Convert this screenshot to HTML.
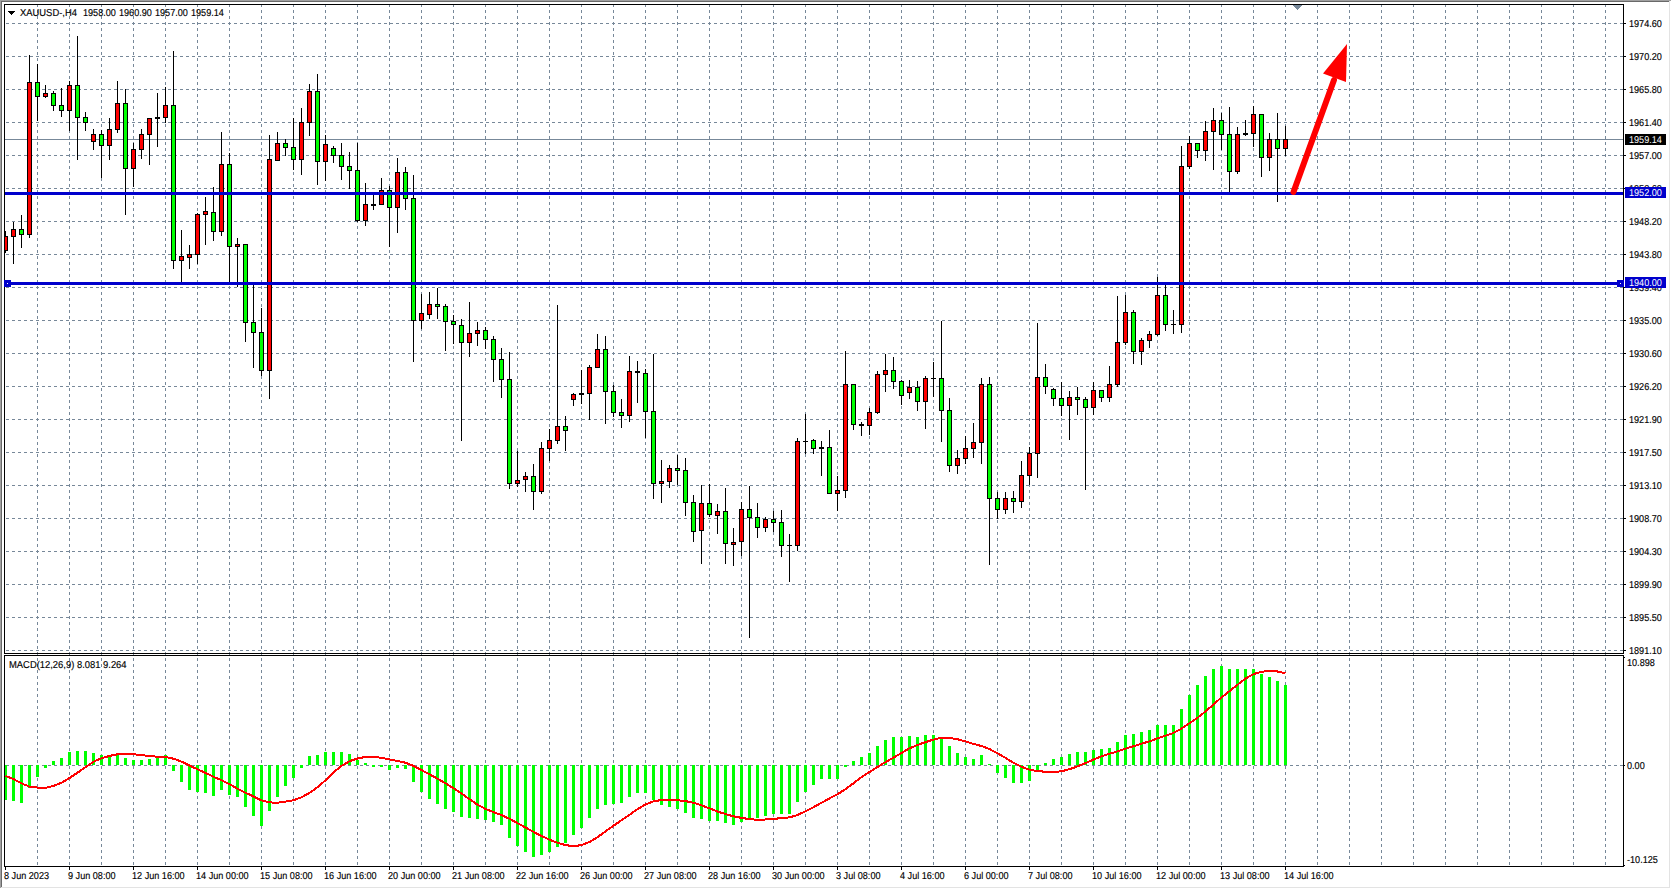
<!DOCTYPE html>
<html><head><meta charset="utf-8"><style>
html,body{margin:0;padding:0;background:#fff;}
body{width:1671px;height:889px;overflow:hidden;}
svg{display:block;}
.t{font-family:"Liberation Sans",sans-serif;font-size:10px;text-rendering:geometricPrecision;}
</style></head><body>
<svg width="1671" height="889" viewBox="0 0 1671 889" shape-rendering="crispEdges">
<defs><clipPath id="mainclip"><rect x="5" y="5" width="1618" height="648"/></clipPath>
<clipPath id="macdclip"><rect x="5" y="656" width="1618" height="210"/></clipPath></defs>
<rect x="0" y="0" width="1671" height="889" fill="#ffffff"/>
<rect x="0" y="0" width="1671" height="1" fill="#a0a0a0"/>
<rect x="0" y="0" width="1" height="888" fill="#a0a0a0"/>
<rect x="1" y="1" width="1669" height="1" fill="#696969"/>
<rect x="1" y="1" width="1" height="887" fill="#696969"/>
<rect x="1669" y="1" width="1" height="887" fill="#e3e3e3"/>
<rect x="1" y="887" width="1669" height="1" fill="#e3e3e3"/>
<path d="M5 23.5H1623 M5 56.5H1623 M5 89.5H1623 M5 122.5H1623 M5 155.5H1623 M5 188.5H1623 M5 221.5H1623 M5 254.5H1623 M5 287.5H1623 M5 320.5H1623 M5 353.5H1623 M5 386.5H1623 M5 419.5H1623 M5 452.5H1623 M5 485.5H1623 M5 518.5H1623 M5 551.5H1623 M5 584.5H1623 M5 617.5H1623 M5 650.5H1623" stroke="#778899" stroke-width="1" stroke-dasharray="3 3" stroke-dashoffset="5" fill="none"/>
<path d="M37.5 4V653 M37.5 652V866 M69.5 4V653 M69.5 652V866 M101.5 4V653 M101.5 652V866 M133.5 4V653 M133.5 652V866 M165.5 4V653 M165.5 652V866 M197.5 4V653 M197.5 652V866 M229.5 4V653 M229.5 652V866 M261.5 4V653 M261.5 652V866 M293.5 4V653 M293.5 652V866 M325.5 4V653 M325.5 652V866 M357.5 4V653 M357.5 652V866 M389.5 4V653 M389.5 652V866 M421.5 4V653 M421.5 652V866 M453.5 4V653 M453.5 652V866 M485.5 4V653 M485.5 652V866 M517.5 4V653 M517.5 652V866 M549.5 4V653 M549.5 652V866 M581.5 4V653 M581.5 652V866 M613.5 4V653 M613.5 652V866 M645.5 4V653 M645.5 652V866 M677.5 4V653 M677.5 652V866 M709.5 4V653 M709.5 652V866 M741.5 4V653 M741.5 652V866 M773.5 4V653 M773.5 652V866 M805.5 4V653 M805.5 652V866 M837.5 4V653 M837.5 652V866 M869.5 4V653 M869.5 652V866 M901.5 4V653 M901.5 652V866 M933.5 4V653 M933.5 652V866 M965.5 4V653 M965.5 652V866 M997.5 4V653 M997.5 652V866 M1029.5 4V653 M1029.5 652V866 M1061.5 4V653 M1061.5 652V866 M1093.5 4V653 M1093.5 652V866 M1125.5 4V653 M1125.5 652V866 M1157.5 4V653 M1157.5 652V866 M1189.5 4V653 M1189.5 652V866 M1221.5 4V653 M1221.5 652V866 M1253.5 4V653 M1253.5 652V866 M1285.5 4V653 M1285.5 652V866 M1317.5 4V653 M1317.5 652V866 M1349.5 4V653 M1349.5 652V866 M1381.5 4V653 M1381.5 652V866 M1413.5 4V653 M1413.5 652V866 M1445.5 4V653 M1445.5 652V866 M1477.5 4V653 M1477.5 652V866 M1509.5 4V653 M1509.5 652V866 M1541.5 4V653 M1541.5 652V866 M1573.5 4V653 M1573.5 652V866 M1605.5 4V653 M1605.5 652V866" stroke="#778899" stroke-width="1" stroke-dasharray="3 3" fill="none"/>
<path d="M5 765.5H1623" stroke="#778899" stroke-width="1" stroke-dasharray="3 3" stroke-dashoffset="5" fill="none"/>
<rect x="5" y="139" width="1618" height="1" fill="#778899"/>
<g clip-path="url(#mainclip)">
<rect x="5" y="231" width="1" height="22" fill="#000"/>
<rect x="3" y="236" width="5" height="15" fill="#000"/>
<rect x="4" y="237" width="3" height="13" fill="#ff0000"/>
<rect x="13" y="222" width="1" height="42" fill="#000"/>
<rect x="11" y="229" width="5" height="8" fill="#000"/>
<rect x="12" y="230" width="3" height="6" fill="#ff0000"/>
<rect x="21" y="215" width="1" height="33" fill="#000"/>
<rect x="19" y="229" width="5" height="6" fill="#000"/>
<rect x="20" y="230" width="3" height="4" fill="#00ff00"/>
<rect x="29" y="55" width="1" height="183" fill="#000"/>
<rect x="27" y="82" width="5" height="153" fill="#000"/>
<rect x="28" y="83" width="3" height="151" fill="#ff0000"/>
<rect x="37" y="64" width="1" height="57" fill="#000"/>
<rect x="35" y="82" width="5" height="15" fill="#000"/>
<rect x="36" y="83" width="3" height="13" fill="#00ff00"/>
<rect x="45" y="85" width="1" height="13" fill="#000"/>
<rect x="43" y="93" width="5" height="4" fill="#000"/>
<rect x="44" y="94" width="3" height="2" fill="#ff0000"/>
<rect x="53" y="91" width="1" height="20" fill="#000"/>
<rect x="51" y="93" width="5" height="13" fill="#000"/>
<rect x="52" y="94" width="3" height="11" fill="#00ff00"/>
<rect x="61" y="88" width="1" height="29" fill="#000"/>
<rect x="59" y="105" width="5" height="6" fill="#000"/>
<rect x="60" y="106" width="3" height="4" fill="#00ff00"/>
<rect x="69" y="81" width="1" height="50" fill="#000"/>
<rect x="67" y="85" width="5" height="26" fill="#000"/>
<rect x="68" y="86" width="3" height="24" fill="#ff0000"/>
<rect x="77" y="36" width="1" height="124" fill="#000"/>
<rect x="75" y="85" width="5" height="33" fill="#000"/>
<rect x="76" y="86" width="3" height="31" fill="#00ff00"/>
<rect x="85" y="112" width="1" height="19" fill="#000"/>
<rect x="83" y="117" width="5" height="6" fill="#000"/>
<rect x="84" y="118" width="3" height="4" fill="#00ff00"/>
<rect x="93" y="129" width="1" height="21" fill="#000"/>
<rect x="91" y="134" width="5" height="8" fill="#000"/>
<rect x="92" y="135" width="3" height="6" fill="#ff0000"/>
<rect x="101" y="130" width="1" height="48" fill="#000"/>
<rect x="99" y="134" width="5" height="12" fill="#000"/>
<rect x="100" y="135" width="3" height="10" fill="#00ff00"/>
<rect x="109" y="118" width="1" height="42" fill="#000"/>
<rect x="107" y="129" width="5" height="17" fill="#000"/>
<rect x="108" y="130" width="3" height="15" fill="#ff0000"/>
<rect x="117" y="81" width="1" height="52" fill="#000"/>
<rect x="115" y="103" width="5" height="27" fill="#000"/>
<rect x="116" y="104" width="3" height="25" fill="#ff0000"/>
<rect x="125" y="89" width="1" height="126" fill="#000"/>
<rect x="123" y="103" width="5" height="66" fill="#000"/>
<rect x="124" y="104" width="3" height="64" fill="#00ff00"/>
<rect x="133" y="143" width="1" height="44" fill="#000"/>
<rect x="131" y="149" width="5" height="20" fill="#000"/>
<rect x="132" y="150" width="3" height="18" fill="#ff0000"/>
<rect x="141" y="129" width="1" height="30" fill="#000"/>
<rect x="139" y="134" width="5" height="16" fill="#000"/>
<rect x="140" y="135" width="3" height="14" fill="#ff0000"/>
<rect x="149" y="118" width="1" height="47" fill="#000"/>
<rect x="147" y="118" width="5" height="17" fill="#000"/>
<rect x="148" y="119" width="3" height="15" fill="#ff0000"/>
<rect x="157" y="93" width="1" height="54" fill="#000"/>
<rect x="155" y="117" width="5" height="2" fill="#000"/>
<rect x="165" y="87" width="1" height="36" fill="#000"/>
<rect x="163" y="105" width="5" height="13" fill="#000"/>
<rect x="164" y="106" width="3" height="11" fill="#ff0000"/>
<rect x="173" y="51" width="1" height="218" fill="#000"/>
<rect x="171" y="105" width="5" height="156" fill="#000"/>
<rect x="172" y="106" width="3" height="154" fill="#00ff00"/>
<rect x="181" y="230" width="1" height="52" fill="#000"/>
<rect x="179" y="256" width="5" height="5" fill="#000"/>
<rect x="180" y="257" width="3" height="3" fill="#ff0000"/>
<rect x="189" y="245" width="1" height="24" fill="#000"/>
<rect x="187" y="254" width="5" height="4" fill="#000"/>
<rect x="188" y="255" width="3" height="2" fill="#ff0000"/>
<rect x="197" y="213" width="1" height="51" fill="#000"/>
<rect x="195" y="214" width="5" height="41" fill="#000"/>
<rect x="196" y="215" width="3" height="39" fill="#ff0000"/>
<rect x="205" y="197" width="1" height="48" fill="#000"/>
<rect x="203" y="211" width="5" height="4" fill="#000"/>
<rect x="204" y="212" width="3" height="2" fill="#ff0000"/>
<rect x="213" y="187" width="1" height="54" fill="#000"/>
<rect x="211" y="212" width="5" height="20" fill="#000"/>
<rect x="212" y="213" width="3" height="18" fill="#00ff00"/>
<rect x="221" y="132" width="1" height="104" fill="#000"/>
<rect x="219" y="164" width="5" height="68" fill="#000"/>
<rect x="220" y="165" width="3" height="66" fill="#ff0000"/>
<rect x="229" y="153" width="1" height="131" fill="#000"/>
<rect x="227" y="164" width="5" height="83" fill="#000"/>
<rect x="228" y="165" width="3" height="81" fill="#00ff00"/>
<rect x="237" y="238" width="1" height="49" fill="#000"/>
<rect x="235" y="244" width="5" height="3" fill="#000"/>
<rect x="236" y="245" width="3" height="1" fill="#ff0000"/>
<rect x="245" y="244" width="1" height="98" fill="#000"/>
<rect x="243" y="244" width="5" height="79" fill="#000"/>
<rect x="244" y="245" width="3" height="77" fill="#00ff00"/>
<rect x="253" y="284" width="1" height="84" fill="#000"/>
<rect x="251" y="322" width="5" height="11" fill="#000"/>
<rect x="252" y="323" width="3" height="9" fill="#00ff00"/>
<rect x="261" y="308" width="1" height="68" fill="#000"/>
<rect x="259" y="332" width="5" height="39" fill="#000"/>
<rect x="260" y="333" width="3" height="37" fill="#00ff00"/>
<rect x="269" y="135" width="1" height="264" fill="#000"/>
<rect x="267" y="159" width="5" height="212" fill="#000"/>
<rect x="268" y="160" width="3" height="210" fill="#ff0000"/>
<rect x="277" y="132" width="1" height="29" fill="#000"/>
<rect x="275" y="143" width="5" height="18" fill="#000"/>
<rect x="276" y="144" width="3" height="16" fill="#ff0000"/>
<rect x="285" y="139" width="1" height="17" fill="#000"/>
<rect x="283" y="143" width="5" height="5" fill="#000"/>
<rect x="284" y="144" width="3" height="3" fill="#00ff00"/>
<rect x="293" y="118" width="1" height="52" fill="#000"/>
<rect x="291" y="147" width="5" height="13" fill="#000"/>
<rect x="292" y="148" width="3" height="11" fill="#00ff00"/>
<rect x="301" y="108" width="1" height="67" fill="#000"/>
<rect x="299" y="122" width="5" height="38" fill="#000"/>
<rect x="300" y="123" width="3" height="36" fill="#ff0000"/>
<rect x="309" y="84" width="1" height="52" fill="#000"/>
<rect x="307" y="91" width="5" height="32" fill="#000"/>
<rect x="308" y="92" width="3" height="30" fill="#ff0000"/>
<rect x="317" y="74" width="1" height="111" fill="#000"/>
<rect x="315" y="91" width="5" height="71" fill="#000"/>
<rect x="316" y="92" width="3" height="69" fill="#00ff00"/>
<rect x="325" y="135" width="1" height="46" fill="#000"/>
<rect x="323" y="144" width="5" height="18" fill="#000"/>
<rect x="324" y="145" width="3" height="16" fill="#ff0000"/>
<rect x="333" y="146" width="1" height="17" fill="#000"/>
<rect x="331" y="148" width="5" height="8" fill="#000"/>
<rect x="332" y="149" width="3" height="6" fill="#00ff00"/>
<rect x="341" y="143" width="1" height="37" fill="#000"/>
<rect x="339" y="155" width="5" height="12" fill="#000"/>
<rect x="340" y="156" width="3" height="10" fill="#00ff00"/>
<rect x="349" y="152" width="1" height="37" fill="#000"/>
<rect x="347" y="166" width="5" height="5" fill="#000"/>
<rect x="348" y="167" width="3" height="3" fill="#00ff00"/>
<rect x="357" y="143" width="1" height="79" fill="#000"/>
<rect x="355" y="170" width="5" height="51" fill="#000"/>
<rect x="356" y="171" width="3" height="49" fill="#00ff00"/>
<rect x="365" y="183" width="1" height="43" fill="#000"/>
<rect x="363" y="204" width="5" height="17" fill="#000"/>
<rect x="364" y="205" width="3" height="15" fill="#ff0000"/>
<rect x="373" y="195" width="1" height="15" fill="#000"/>
<rect x="371" y="204" width="5" height="2" fill="#000"/>
<rect x="381" y="178" width="1" height="27" fill="#000"/>
<rect x="379" y="190" width="5" height="15" fill="#000"/>
<rect x="380" y="191" width="3" height="13" fill="#ff0000"/>
<rect x="389" y="186" width="1" height="61" fill="#000"/>
<rect x="387" y="190" width="5" height="18" fill="#000"/>
<rect x="388" y="191" width="3" height="16" fill="#00ff00"/>
<rect x="397" y="158" width="1" height="75" fill="#000"/>
<rect x="395" y="172" width="5" height="36" fill="#000"/>
<rect x="396" y="173" width="3" height="34" fill="#ff0000"/>
<rect x="405" y="167" width="1" height="43" fill="#000"/>
<rect x="403" y="172" width="5" height="27" fill="#000"/>
<rect x="404" y="173" width="3" height="25" fill="#00ff00"/>
<rect x="413" y="175" width="1" height="187" fill="#000"/>
<rect x="411" y="198" width="5" height="123" fill="#000"/>
<rect x="412" y="199" width="3" height="121" fill="#00ff00"/>
<rect x="421" y="294" width="1" height="35" fill="#000"/>
<rect x="419" y="313" width="5" height="8" fill="#000"/>
<rect x="420" y="314" width="3" height="6" fill="#ff0000"/>
<rect x="429" y="292" width="1" height="27" fill="#000"/>
<rect x="427" y="304" width="5" height="11" fill="#000"/>
<rect x="428" y="305" width="3" height="9" fill="#ff0000"/>
<rect x="437" y="288" width="1" height="31" fill="#000"/>
<rect x="435" y="304" width="5" height="3" fill="#000"/>
<rect x="436" y="305" width="3" height="1" fill="#00ff00"/>
<rect x="445" y="304" width="1" height="47" fill="#000"/>
<rect x="443" y="306" width="5" height="16" fill="#000"/>
<rect x="444" y="307" width="3" height="14" fill="#00ff00"/>
<rect x="453" y="315" width="1" height="29" fill="#000"/>
<rect x="451" y="321" width="5" height="4" fill="#000"/>
<rect x="452" y="322" width="3" height="2" fill="#00ff00"/>
<rect x="461" y="319" width="1" height="122" fill="#000"/>
<rect x="459" y="325" width="5" height="18" fill="#000"/>
<rect x="460" y="326" width="3" height="16" fill="#00ff00"/>
<rect x="469" y="302" width="1" height="55" fill="#000"/>
<rect x="467" y="333" width="5" height="10" fill="#000"/>
<rect x="468" y="334" width="3" height="8" fill="#ff0000"/>
<rect x="477" y="322" width="1" height="24" fill="#000"/>
<rect x="475" y="330" width="5" height="4" fill="#000"/>
<rect x="476" y="331" width="3" height="2" fill="#ff0000"/>
<rect x="485" y="327" width="1" height="22" fill="#000"/>
<rect x="483" y="330" width="5" height="10" fill="#000"/>
<rect x="484" y="331" width="3" height="8" fill="#00ff00"/>
<rect x="493" y="336" width="1" height="46" fill="#000"/>
<rect x="491" y="339" width="5" height="21" fill="#000"/>
<rect x="492" y="340" width="3" height="19" fill="#00ff00"/>
<rect x="501" y="348" width="1" height="50" fill="#000"/>
<rect x="499" y="359" width="5" height="21" fill="#000"/>
<rect x="500" y="360" width="3" height="19" fill="#00ff00"/>
<rect x="509" y="352" width="1" height="137" fill="#000"/>
<rect x="507" y="379" width="5" height="105" fill="#000"/>
<rect x="508" y="380" width="3" height="103" fill="#00ff00"/>
<rect x="517" y="451" width="1" height="36" fill="#000"/>
<rect x="515" y="480" width="5" height="4" fill="#000"/>
<rect x="516" y="481" width="3" height="2" fill="#ff0000"/>
<rect x="525" y="472" width="1" height="20" fill="#000"/>
<rect x="523" y="476" width="5" height="4" fill="#000"/>
<rect x="524" y="477" width="3" height="2" fill="#ff0000"/>
<rect x="533" y="464" width="1" height="46" fill="#000"/>
<rect x="531" y="476" width="5" height="16" fill="#000"/>
<rect x="532" y="477" width="3" height="14" fill="#00ff00"/>
<rect x="541" y="442" width="1" height="52" fill="#000"/>
<rect x="539" y="448" width="5" height="44" fill="#000"/>
<rect x="540" y="449" width="3" height="42" fill="#ff0000"/>
<rect x="549" y="429" width="1" height="32" fill="#000"/>
<rect x="547" y="440" width="5" height="9" fill="#000"/>
<rect x="548" y="441" width="3" height="7" fill="#ff0000"/>
<rect x="557" y="305" width="1" height="139" fill="#000"/>
<rect x="555" y="426" width="5" height="15" fill="#000"/>
<rect x="556" y="427" width="3" height="13" fill="#ff0000"/>
<rect x="565" y="416" width="1" height="35" fill="#000"/>
<rect x="563" y="426" width="5" height="5" fill="#000"/>
<rect x="564" y="427" width="3" height="3" fill="#00ff00"/>
<rect x="573" y="393" width="1" height="13" fill="#000"/>
<rect x="571" y="394" width="5" height="6" fill="#000"/>
<rect x="572" y="395" width="3" height="4" fill="#ff0000"/>
<rect x="581" y="370" width="1" height="34" fill="#000"/>
<rect x="579" y="393" width="5" height="2" fill="#000"/>
<rect x="589" y="365" width="1" height="55" fill="#000"/>
<rect x="587" y="367" width="5" height="27" fill="#000"/>
<rect x="588" y="368" width="3" height="25" fill="#ff0000"/>
<rect x="597" y="334" width="1" height="34" fill="#000"/>
<rect x="595" y="349" width="5" height="19" fill="#000"/>
<rect x="596" y="350" width="3" height="17" fill="#ff0000"/>
<rect x="605" y="336" width="1" height="88" fill="#000"/>
<rect x="603" y="349" width="5" height="43" fill="#000"/>
<rect x="604" y="350" width="3" height="41" fill="#00ff00"/>
<rect x="613" y="385" width="1" height="32" fill="#000"/>
<rect x="611" y="391" width="5" height="22" fill="#000"/>
<rect x="612" y="392" width="3" height="20" fill="#00ff00"/>
<rect x="621" y="399" width="1" height="29" fill="#000"/>
<rect x="619" y="412" width="5" height="4" fill="#000"/>
<rect x="620" y="413" width="3" height="2" fill="#00ff00"/>
<rect x="629" y="356" width="1" height="66" fill="#000"/>
<rect x="627" y="371" width="5" height="45" fill="#000"/>
<rect x="628" y="372" width="3" height="43" fill="#ff0000"/>
<rect x="637" y="361" width="1" height="42" fill="#000"/>
<rect x="635" y="371" width="5" height="2" fill="#000"/>
<rect x="645" y="369" width="1" height="69" fill="#000"/>
<rect x="643" y="373" width="5" height="39" fill="#000"/>
<rect x="644" y="374" width="3" height="37" fill="#00ff00"/>
<rect x="653" y="354" width="1" height="145" fill="#000"/>
<rect x="651" y="411" width="5" height="73" fill="#000"/>
<rect x="652" y="412" width="3" height="71" fill="#00ff00"/>
<rect x="661" y="460" width="1" height="43" fill="#000"/>
<rect x="659" y="481" width="5" height="3" fill="#000"/>
<rect x="660" y="482" width="3" height="1" fill="#ff0000"/>
<rect x="669" y="465" width="1" height="23" fill="#000"/>
<rect x="667" y="468" width="5" height="14" fill="#000"/>
<rect x="668" y="469" width="3" height="12" fill="#ff0000"/>
<rect x="677" y="455" width="1" height="30" fill="#000"/>
<rect x="675" y="468" width="5" height="3" fill="#000"/>
<rect x="676" y="469" width="3" height="1" fill="#00ff00"/>
<rect x="685" y="458" width="1" height="58" fill="#000"/>
<rect x="683" y="470" width="5" height="33" fill="#000"/>
<rect x="684" y="471" width="3" height="31" fill="#00ff00"/>
<rect x="693" y="495" width="1" height="47" fill="#000"/>
<rect x="691" y="502" width="5" height="30" fill="#000"/>
<rect x="692" y="503" width="3" height="28" fill="#00ff00"/>
<rect x="701" y="485" width="1" height="79" fill="#000"/>
<rect x="699" y="503" width="5" height="28" fill="#000"/>
<rect x="700" y="504" width="3" height="26" fill="#ff0000"/>
<rect x="709" y="484" width="1" height="33" fill="#000"/>
<rect x="707" y="503" width="5" height="12" fill="#000"/>
<rect x="708" y="504" width="3" height="10" fill="#00ff00"/>
<rect x="717" y="504" width="1" height="30" fill="#000"/>
<rect x="715" y="511" width="5" height="5" fill="#000"/>
<rect x="716" y="512" width="3" height="3" fill="#ff0000"/>
<rect x="725" y="488" width="1" height="76" fill="#000"/>
<rect x="723" y="511" width="5" height="33" fill="#000"/>
<rect x="724" y="512" width="3" height="31" fill="#00ff00"/>
<rect x="733" y="528" width="1" height="38" fill="#000"/>
<rect x="731" y="542" width="5" height="3" fill="#000"/>
<rect x="732" y="543" width="3" height="1" fill="#ff0000"/>
<rect x="741" y="502" width="1" height="54" fill="#000"/>
<rect x="739" y="509" width="5" height="33" fill="#000"/>
<rect x="740" y="510" width="3" height="31" fill="#ff0000"/>
<rect x="749" y="486" width="1" height="152" fill="#000"/>
<rect x="747" y="509" width="5" height="9" fill="#000"/>
<rect x="748" y="510" width="3" height="7" fill="#00ff00"/>
<rect x="757" y="503" width="1" height="35" fill="#000"/>
<rect x="755" y="517" width="5" height="11" fill="#000"/>
<rect x="756" y="518" width="3" height="9" fill="#00ff00"/>
<rect x="765" y="517" width="1" height="15" fill="#000"/>
<rect x="763" y="519" width="5" height="9" fill="#000"/>
<rect x="764" y="520" width="3" height="7" fill="#ff0000"/>
<rect x="773" y="511" width="1" height="21" fill="#000"/>
<rect x="771" y="519" width="5" height="4" fill="#000"/>
<rect x="772" y="520" width="3" height="2" fill="#00ff00"/>
<rect x="781" y="510" width="1" height="47" fill="#000"/>
<rect x="779" y="522" width="5" height="24" fill="#000"/>
<rect x="780" y="523" width="3" height="22" fill="#00ff00"/>
<rect x="789" y="534" width="1" height="48" fill="#000"/>
<rect x="787" y="545" width="5" height="1" fill="#000"/>
<rect x="797" y="438" width="1" height="113" fill="#000"/>
<rect x="795" y="441" width="5" height="105" fill="#000"/>
<rect x="796" y="442" width="3" height="103" fill="#ff0000"/>
<rect x="805" y="414" width="1" height="40" fill="#000"/>
<rect x="803" y="441" width="5" height="1" fill="#000"/>
<rect x="813" y="439" width="1" height="15" fill="#000"/>
<rect x="811" y="440" width="5" height="9" fill="#000"/>
<rect x="812" y="441" width="3" height="7" fill="#00ff00"/>
<rect x="821" y="441" width="1" height="35" fill="#000"/>
<rect x="819" y="447" width="5" height="2" fill="#000"/>
<rect x="829" y="430" width="1" height="64" fill="#000"/>
<rect x="827" y="447" width="5" height="47" fill="#000"/>
<rect x="828" y="448" width="3" height="45" fill="#00ff00"/>
<rect x="837" y="476" width="1" height="35" fill="#000"/>
<rect x="835" y="490" width="5" height="4" fill="#000"/>
<rect x="836" y="491" width="3" height="2" fill="#ff0000"/>
<rect x="845" y="351" width="1" height="147" fill="#000"/>
<rect x="843" y="384" width="5" height="107" fill="#000"/>
<rect x="844" y="385" width="3" height="105" fill="#ff0000"/>
<rect x="853" y="384" width="1" height="46" fill="#000"/>
<rect x="851" y="384" width="5" height="41" fill="#000"/>
<rect x="852" y="385" width="3" height="39" fill="#00ff00"/>
<rect x="861" y="422" width="1" height="14" fill="#000"/>
<rect x="859" y="424" width="5" height="2" fill="#000"/>
<rect x="869" y="408" width="1" height="27" fill="#000"/>
<rect x="867" y="412" width="5" height="14" fill="#000"/>
<rect x="868" y="413" width="3" height="12" fill="#ff0000"/>
<rect x="877" y="371" width="1" height="43" fill="#000"/>
<rect x="875" y="374" width="5" height="39" fill="#000"/>
<rect x="876" y="375" width="3" height="37" fill="#ff0000"/>
<rect x="885" y="354" width="1" height="38" fill="#000"/>
<rect x="883" y="370" width="5" height="5" fill="#000"/>
<rect x="884" y="371" width="3" height="3" fill="#ff0000"/>
<rect x="893" y="357" width="1" height="32" fill="#000"/>
<rect x="891" y="370" width="5" height="12" fill="#000"/>
<rect x="892" y="371" width="3" height="10" fill="#00ff00"/>
<rect x="901" y="380" width="1" height="25" fill="#000"/>
<rect x="899" y="381" width="5" height="15" fill="#000"/>
<rect x="900" y="382" width="3" height="13" fill="#00ff00"/>
<rect x="909" y="380" width="1" height="19" fill="#000"/>
<rect x="907" y="387" width="5" height="6" fill="#000"/>
<rect x="908" y="388" width="3" height="4" fill="#ff0000"/>
<rect x="917" y="381" width="1" height="30" fill="#000"/>
<rect x="915" y="387" width="5" height="15" fill="#000"/>
<rect x="916" y="388" width="3" height="13" fill="#00ff00"/>
<rect x="925" y="376" width="1" height="53" fill="#000"/>
<rect x="923" y="378" width="5" height="24" fill="#000"/>
<rect x="924" y="379" width="3" height="22" fill="#ff0000"/>
<rect x="933" y="362" width="1" height="35" fill="#000"/>
<rect x="931" y="378" width="5" height="1" fill="#000"/>
<rect x="941" y="321" width="1" height="121" fill="#000"/>
<rect x="939" y="378" width="5" height="33" fill="#000"/>
<rect x="940" y="379" width="3" height="31" fill="#00ff00"/>
<rect x="949" y="398" width="1" height="74" fill="#000"/>
<rect x="947" y="410" width="5" height="56" fill="#000"/>
<rect x="948" y="411" width="3" height="54" fill="#00ff00"/>
<rect x="957" y="450" width="1" height="24" fill="#000"/>
<rect x="955" y="458" width="5" height="8" fill="#000"/>
<rect x="956" y="459" width="3" height="6" fill="#ff0000"/>
<rect x="965" y="436" width="1" height="28" fill="#000"/>
<rect x="963" y="448" width="5" height="11" fill="#000"/>
<rect x="964" y="449" width="3" height="9" fill="#ff0000"/>
<rect x="973" y="423" width="1" height="35" fill="#000"/>
<rect x="971" y="442" width="5" height="7" fill="#000"/>
<rect x="972" y="443" width="3" height="5" fill="#ff0000"/>
<rect x="981" y="378" width="1" height="86" fill="#000"/>
<rect x="979" y="384" width="5" height="59" fill="#000"/>
<rect x="980" y="385" width="3" height="57" fill="#ff0000"/>
<rect x="989" y="377" width="1" height="188" fill="#000"/>
<rect x="987" y="384" width="5" height="115" fill="#000"/>
<rect x="988" y="385" width="3" height="113" fill="#00ff00"/>
<rect x="997" y="492" width="1" height="27" fill="#000"/>
<rect x="995" y="498" width="5" height="12" fill="#000"/>
<rect x="996" y="499" width="3" height="10" fill="#00ff00"/>
<rect x="1005" y="492" width="1" height="22" fill="#000"/>
<rect x="1003" y="498" width="5" height="12" fill="#000"/>
<rect x="1004" y="499" width="3" height="10" fill="#ff0000"/>
<rect x="1013" y="491" width="1" height="22" fill="#000"/>
<rect x="1011" y="498" width="5" height="4" fill="#000"/>
<rect x="1012" y="499" width="3" height="2" fill="#00ff00"/>
<rect x="1021" y="461" width="1" height="47" fill="#000"/>
<rect x="1019" y="475" width="5" height="27" fill="#000"/>
<rect x="1020" y="476" width="3" height="25" fill="#ff0000"/>
<rect x="1029" y="447" width="1" height="38" fill="#000"/>
<rect x="1027" y="453" width="5" height="23" fill="#000"/>
<rect x="1028" y="454" width="3" height="21" fill="#ff0000"/>
<rect x="1037" y="323" width="1" height="155" fill="#000"/>
<rect x="1035" y="377" width="5" height="77" fill="#000"/>
<rect x="1036" y="378" width="3" height="75" fill="#ff0000"/>
<rect x="1045" y="364" width="1" height="30" fill="#000"/>
<rect x="1043" y="377" width="5" height="10" fill="#000"/>
<rect x="1044" y="378" width="3" height="8" fill="#00ff00"/>
<rect x="1053" y="388" width="1" height="18" fill="#000"/>
<rect x="1051" y="389" width="5" height="10" fill="#000"/>
<rect x="1052" y="390" width="3" height="8" fill="#00ff00"/>
<rect x="1061" y="382" width="1" height="34" fill="#000"/>
<rect x="1059" y="398" width="5" height="8" fill="#000"/>
<rect x="1060" y="399" width="3" height="6" fill="#00ff00"/>
<rect x="1069" y="391" width="1" height="49" fill="#000"/>
<rect x="1067" y="397" width="5" height="9" fill="#000"/>
<rect x="1068" y="398" width="3" height="7" fill="#ff0000"/>
<rect x="1077" y="387" width="1" height="28" fill="#000"/>
<rect x="1075" y="397" width="5" height="3" fill="#000"/>
<rect x="1076" y="398" width="3" height="1" fill="#00ff00"/>
<rect x="1085" y="397" width="1" height="93" fill="#000"/>
<rect x="1083" y="399" width="5" height="9" fill="#000"/>
<rect x="1084" y="400" width="3" height="7" fill="#00ff00"/>
<rect x="1093" y="382" width="1" height="33" fill="#000"/>
<rect x="1091" y="390" width="5" height="18" fill="#000"/>
<rect x="1092" y="391" width="3" height="16" fill="#ff0000"/>
<rect x="1101" y="390" width="1" height="12" fill="#000"/>
<rect x="1099" y="390" width="5" height="8" fill="#000"/>
<rect x="1100" y="391" width="3" height="6" fill="#00ff00"/>
<rect x="1109" y="366" width="1" height="36" fill="#000"/>
<rect x="1107" y="384" width="5" height="14" fill="#000"/>
<rect x="1108" y="385" width="3" height="12" fill="#ff0000"/>
<rect x="1117" y="296" width="1" height="91" fill="#000"/>
<rect x="1115" y="342" width="5" height="43" fill="#000"/>
<rect x="1116" y="343" width="3" height="41" fill="#ff0000"/>
<rect x="1125" y="295" width="1" height="50" fill="#000"/>
<rect x="1123" y="312" width="5" height="31" fill="#000"/>
<rect x="1124" y="313" width="3" height="29" fill="#ff0000"/>
<rect x="1133" y="310" width="1" height="54" fill="#000"/>
<rect x="1131" y="312" width="5" height="40" fill="#000"/>
<rect x="1132" y="313" width="3" height="38" fill="#00ff00"/>
<rect x="1141" y="338" width="1" height="27" fill="#000"/>
<rect x="1139" y="340" width="5" height="12" fill="#000"/>
<rect x="1140" y="341" width="3" height="10" fill="#ff0000"/>
<rect x="1149" y="331" width="1" height="17" fill="#000"/>
<rect x="1147" y="334" width="5" height="7" fill="#000"/>
<rect x="1148" y="335" width="3" height="5" fill="#ff0000"/>
<rect x="1157" y="277" width="1" height="59" fill="#000"/>
<rect x="1155" y="295" width="5" height="40" fill="#000"/>
<rect x="1156" y="296" width="3" height="38" fill="#ff0000"/>
<rect x="1165" y="284" width="1" height="47" fill="#000"/>
<rect x="1163" y="295" width="5" height="30" fill="#000"/>
<rect x="1164" y="296" width="3" height="28" fill="#00ff00"/>
<rect x="1173" y="310" width="1" height="24" fill="#000"/>
<rect x="1171" y="324" width="5" height="1" fill="#000"/>
<rect x="1181" y="146" width="1" height="187" fill="#000"/>
<rect x="1179" y="166" width="5" height="159" fill="#000"/>
<rect x="1180" y="167" width="3" height="157" fill="#ff0000"/>
<rect x="1189" y="136" width="1" height="33" fill="#000"/>
<rect x="1187" y="143" width="5" height="24" fill="#000"/>
<rect x="1188" y="144" width="3" height="22" fill="#ff0000"/>
<rect x="1197" y="143" width="1" height="15" fill="#000"/>
<rect x="1195" y="143" width="5" height="8" fill="#000"/>
<rect x="1196" y="144" width="3" height="6" fill="#00ff00"/>
<rect x="1205" y="121" width="1" height="40" fill="#000"/>
<rect x="1203" y="131" width="5" height="20" fill="#000"/>
<rect x="1204" y="132" width="3" height="18" fill="#ff0000"/>
<rect x="1213" y="108" width="1" height="62" fill="#000"/>
<rect x="1211" y="120" width="5" height="12" fill="#000"/>
<rect x="1212" y="121" width="3" height="10" fill="#ff0000"/>
<rect x="1221" y="113" width="1" height="37" fill="#000"/>
<rect x="1219" y="120" width="5" height="15" fill="#000"/>
<rect x="1220" y="121" width="3" height="13" fill="#00ff00"/>
<rect x="1229" y="107" width="1" height="86" fill="#000"/>
<rect x="1227" y="134" width="5" height="38" fill="#000"/>
<rect x="1228" y="135" width="3" height="36" fill="#00ff00"/>
<rect x="1237" y="127" width="1" height="47" fill="#000"/>
<rect x="1235" y="134" width="5" height="38" fill="#000"/>
<rect x="1236" y="135" width="3" height="36" fill="#ff0000"/>
<rect x="1245" y="120" width="1" height="16" fill="#000"/>
<rect x="1243" y="133" width="5" height="2" fill="#000"/>
<rect x="1253" y="106" width="1" height="41" fill="#000"/>
<rect x="1251" y="114" width="5" height="20" fill="#000"/>
<rect x="1252" y="115" width="3" height="18" fill="#ff0000"/>
<rect x="1261" y="114" width="1" height="63" fill="#000"/>
<rect x="1259" y="114" width="5" height="44" fill="#000"/>
<rect x="1260" y="115" width="3" height="42" fill="#00ff00"/>
<rect x="1269" y="133" width="1" height="38" fill="#000"/>
<rect x="1267" y="139" width="5" height="19" fill="#000"/>
<rect x="1268" y="140" width="3" height="17" fill="#ff0000"/>
<rect x="1277" y="113" width="1" height="89" fill="#000"/>
<rect x="1275" y="139" width="5" height="10" fill="#000"/>
<rect x="1276" y="140" width="3" height="8" fill="#00ff00"/>
<rect x="1285" y="126" width="1" height="30" fill="#000"/>
<rect x="1283" y="139" width="5" height="10" fill="#000"/>
<rect x="1284" y="140" width="3" height="8" fill="#ff0000"/>
</g>
<g clip-path="url(#macdclip)">
<rect x="4" y="765" width="3" height="35" fill="#00ff00"/>
<rect x="12" y="765" width="3" height="36" fill="#00ff00"/>
<rect x="20" y="765" width="3" height="38" fill="#00ff00"/>
<rect x="28" y="765" width="3" height="23" fill="#00ff00"/>
<rect x="36" y="765" width="3" height="12" fill="#00ff00"/>
<rect x="44" y="765" width="3" height="3" fill="#00ff00"/>
<rect x="52" y="761" width="3" height="4" fill="#00ff00"/>
<rect x="60" y="758" width="3" height="7" fill="#00ff00"/>
<rect x="68" y="752" width="3" height="13" fill="#00ff00"/>
<rect x="76" y="751" width="3" height="14" fill="#00ff00"/>
<rect x="84" y="751" width="3" height="14" fill="#00ff00"/>
<rect x="92" y="753" width="3" height="12" fill="#00ff00"/>
<rect x="100" y="755" width="3" height="10" fill="#00ff00"/>
<rect x="108" y="755" width="3" height="10" fill="#00ff00"/>
<rect x="116" y="753" width="3" height="12" fill="#00ff00"/>
<rect x="124" y="758" width="3" height="7" fill="#00ff00"/>
<rect x="132" y="760" width="3" height="5" fill="#00ff00"/>
<rect x="140" y="760" width="3" height="5" fill="#00ff00"/>
<rect x="148" y="759" width="3" height="6" fill="#00ff00"/>
<rect x="156" y="758" width="3" height="7" fill="#00ff00"/>
<rect x="164" y="755" width="3" height="10" fill="#00ff00"/>
<rect x="172" y="765" width="3" height="6" fill="#00ff00"/>
<rect x="180" y="765" width="3" height="17" fill="#00ff00"/>
<rect x="188" y="765" width="3" height="25" fill="#00ff00"/>
<rect x="196" y="765" width="3" height="27" fill="#00ff00"/>
<rect x="204" y="765" width="3" height="28" fill="#00ff00"/>
<rect x="212" y="765" width="3" height="31" fill="#00ff00"/>
<rect x="220" y="765" width="3" height="25" fill="#00ff00"/>
<rect x="228" y="765" width="3" height="30" fill="#00ff00"/>
<rect x="236" y="765" width="3" height="32" fill="#00ff00"/>
<rect x="244" y="765" width="3" height="42" fill="#00ff00"/>
<rect x="252" y="765" width="3" height="51" fill="#00ff00"/>
<rect x="260" y="765" width="3" height="61" fill="#00ff00"/>
<rect x="268" y="765" width="3" height="46" fill="#00ff00"/>
<rect x="276" y="765" width="3" height="32" fill="#00ff00"/>
<rect x="284" y="765" width="3" height="21" fill="#00ff00"/>
<rect x="292" y="765" width="3" height="13" fill="#00ff00"/>
<rect x="300" y="765" width="3" height="3" fill="#00ff00"/>
<rect x="308" y="756" width="3" height="9" fill="#00ff00"/>
<rect x="316" y="755" width="3" height="10" fill="#00ff00"/>
<rect x="324" y="752" width="3" height="13" fill="#00ff00"/>
<rect x="332" y="752" width="3" height="13" fill="#00ff00"/>
<rect x="340" y="752" width="3" height="13" fill="#00ff00"/>
<rect x="348" y="754" width="3" height="11" fill="#00ff00"/>
<rect x="356" y="760" width="3" height="5" fill="#00ff00"/>
<rect x="364" y="763" width="3" height="2" fill="#00ff00"/>
<rect x="372" y="765" width="3" height="2" fill="#00ff00"/>
<rect x="380" y="765" width="3" height="2" fill="#00ff00"/>
<rect x="388" y="765" width="3" height="5" fill="#00ff00"/>
<rect x="396" y="765" width="3" height="3" fill="#00ff00"/>
<rect x="404" y="765" width="3" height="4" fill="#00ff00"/>
<rect x="412" y="765" width="3" height="17" fill="#00ff00"/>
<rect x="420" y="765" width="3" height="27" fill="#00ff00"/>
<rect x="428" y="765" width="3" height="34" fill="#00ff00"/>
<rect x="436" y="765" width="3" height="39" fill="#00ff00"/>
<rect x="444" y="765" width="3" height="44" fill="#00ff00"/>
<rect x="452" y="765" width="3" height="47" fill="#00ff00"/>
<rect x="460" y="765" width="3" height="52" fill="#00ff00"/>
<rect x="468" y="765" width="3" height="53" fill="#00ff00"/>
<rect x="476" y="765" width="3" height="54" fill="#00ff00"/>
<rect x="484" y="765" width="3" height="55" fill="#00ff00"/>
<rect x="492" y="765" width="3" height="57" fill="#00ff00"/>
<rect x="500" y="765" width="3" height="60" fill="#00ff00"/>
<rect x="508" y="765" width="3" height="73" fill="#00ff00"/>
<rect x="516" y="765" width="3" height="81" fill="#00ff00"/>
<rect x="524" y="765" width="3" height="87" fill="#00ff00"/>
<rect x="532" y="765" width="3" height="92" fill="#00ff00"/>
<rect x="540" y="765" width="3" height="90" fill="#00ff00"/>
<rect x="548" y="765" width="3" height="87" fill="#00ff00"/>
<rect x="556" y="765" width="3" height="82" fill="#00ff00"/>
<rect x="564" y="765" width="3" height="78" fill="#00ff00"/>
<rect x="572" y="765" width="3" height="70" fill="#00ff00"/>
<rect x="580" y="765" width="3" height="63" fill="#00ff00"/>
<rect x="588" y="765" width="3" height="53" fill="#00ff00"/>
<rect x="596" y="765" width="3" height="44" fill="#00ff00"/>
<rect x="604" y="765" width="3" height="40" fill="#00ff00"/>
<rect x="612" y="765" width="3" height="39" fill="#00ff00"/>
<rect x="620" y="765" width="3" height="38" fill="#00ff00"/>
<rect x="628" y="765" width="3" height="32" fill="#00ff00"/>
<rect x="636" y="765" width="3" height="28" fill="#00ff00"/>
<rect x="644" y="765" width="3" height="28" fill="#00ff00"/>
<rect x="652" y="765" width="3" height="35" fill="#00ff00"/>
<rect x="660" y="765" width="3" height="40" fill="#00ff00"/>
<rect x="668" y="765" width="3" height="42" fill="#00ff00"/>
<rect x="676" y="765" width="3" height="44" fill="#00ff00"/>
<rect x="684" y="765" width="3" height="48" fill="#00ff00"/>
<rect x="692" y="765" width="3" height="53" fill="#00ff00"/>
<rect x="700" y="765" width="3" height="54" fill="#00ff00"/>
<rect x="708" y="765" width="3" height="56" fill="#00ff00"/>
<rect x="716" y="765" width="3" height="56" fill="#00ff00"/>
<rect x="724" y="765" width="3" height="58" fill="#00ff00"/>
<rect x="732" y="765" width="3" height="60" fill="#00ff00"/>
<rect x="740" y="765" width="3" height="57" fill="#00ff00"/>
<rect x="748" y="765" width="3" height="55" fill="#00ff00"/>
<rect x="756" y="765" width="3" height="53" fill="#00ff00"/>
<rect x="764" y="765" width="3" height="51" fill="#00ff00"/>
<rect x="772" y="765" width="3" height="49" fill="#00ff00"/>
<rect x="780" y="765" width="3" height="49" fill="#00ff00"/>
<rect x="788" y="765" width="3" height="49" fill="#00ff00"/>
<rect x="796" y="765" width="3" height="37" fill="#00ff00"/>
<rect x="804" y="765" width="3" height="27" fill="#00ff00"/>
<rect x="812" y="765" width="3" height="20" fill="#00ff00"/>
<rect x="820" y="765" width="3" height="14" fill="#00ff00"/>
<rect x="828" y="765" width="3" height="14" fill="#00ff00"/>
<rect x="836" y="765" width="3" height="14" fill="#00ff00"/>
<rect x="844" y="765" width="3" height="2" fill="#00ff00"/>
<rect x="852" y="761" width="3" height="4" fill="#00ff00"/>
<rect x="860" y="757" width="3" height="8" fill="#00ff00"/>
<rect x="868" y="753" width="3" height="12" fill="#00ff00"/>
<rect x="876" y="746" width="3" height="19" fill="#00ff00"/>
<rect x="884" y="740" width="3" height="25" fill="#00ff00"/>
<rect x="892" y="737" width="3" height="28" fill="#00ff00"/>
<rect x="900" y="737" width="3" height="28" fill="#00ff00"/>
<rect x="908" y="736" width="3" height="29" fill="#00ff00"/>
<rect x="916" y="737" width="3" height="28" fill="#00ff00"/>
<rect x="924" y="735" width="3" height="30" fill="#00ff00"/>
<rect x="932" y="735" width="3" height="30" fill="#00ff00"/>
<rect x="940" y="738" width="3" height="27" fill="#00ff00"/>
<rect x="948" y="746" width="3" height="19" fill="#00ff00"/>
<rect x="956" y="753" width="3" height="12" fill="#00ff00"/>
<rect x="964" y="757" width="3" height="8" fill="#00ff00"/>
<rect x="972" y="759" width="3" height="6" fill="#00ff00"/>
<rect x="980" y="755" width="3" height="10" fill="#00ff00"/>
<rect x="988" y="764" width="3" height="1" fill="#00ff00"/>
<rect x="996" y="765" width="3" height="8" fill="#00ff00"/>
<rect x="1004" y="765" width="3" height="13" fill="#00ff00"/>
<rect x="1012" y="765" width="3" height="18" fill="#00ff00"/>
<rect x="1020" y="765" width="3" height="18" fill="#00ff00"/>
<rect x="1028" y="765" width="3" height="16" fill="#00ff00"/>
<rect x="1036" y="765" width="3" height="6" fill="#00ff00"/>
<rect x="1044" y="763" width="3" height="2" fill="#00ff00"/>
<rect x="1052" y="759" width="3" height="6" fill="#00ff00"/>
<rect x="1060" y="757" width="3" height="8" fill="#00ff00"/>
<rect x="1068" y="754" width="3" height="11" fill="#00ff00"/>
<rect x="1076" y="752" width="3" height="13" fill="#00ff00"/>
<rect x="1084" y="752" width="3" height="13" fill="#00ff00"/>
<rect x="1092" y="750" width="3" height="15" fill="#00ff00"/>
<rect x="1100" y="749" width="3" height="16" fill="#00ff00"/>
<rect x="1108" y="748" width="3" height="17" fill="#00ff00"/>
<rect x="1116" y="742" width="3" height="23" fill="#00ff00"/>
<rect x="1124" y="735" width="3" height="30" fill="#00ff00"/>
<rect x="1132" y="734" width="3" height="31" fill="#00ff00"/>
<rect x="1140" y="732" width="3" height="33" fill="#00ff00"/>
<rect x="1148" y="730" width="3" height="35" fill="#00ff00"/>
<rect x="1156" y="725" width="3" height="40" fill="#00ff00"/>
<rect x="1164" y="725" width="3" height="40" fill="#00ff00"/>
<rect x="1172" y="725" width="3" height="40" fill="#00ff00"/>
<rect x="1180" y="709" width="3" height="56" fill="#00ff00"/>
<rect x="1188" y="695" width="3" height="70" fill="#00ff00"/>
<rect x="1196" y="685" width="3" height="80" fill="#00ff00"/>
<rect x="1204" y="676" width="3" height="89" fill="#00ff00"/>
<rect x="1212" y="669" width="3" height="96" fill="#00ff00"/>
<rect x="1220" y="666" width="3" height="99" fill="#00ff00"/>
<rect x="1228" y="669" width="3" height="96" fill="#00ff00"/>
<rect x="1236" y="669" width="3" height="96" fill="#00ff00"/>
<rect x="1244" y="669" width="3" height="96" fill="#00ff00"/>
<rect x="1252" y="669" width="3" height="96" fill="#00ff00"/>
<rect x="1260" y="674" width="3" height="91" fill="#00ff00"/>
<rect x="1268" y="677" width="3" height="88" fill="#00ff00"/>
<rect x="1276" y="681" width="3" height="84" fill="#00ff00"/>
<rect x="1284" y="685" width="3" height="80" fill="#00ff00"/>
<polyline points="5.5,775.9 13.5,779.0 21.5,783.4 29.5,786.6 37.5,787.6 45.5,787.8 53.5,785.9 61.5,782.8 69.5,778.0 77.5,772.7 85.5,767.2 93.5,761.7 101.5,758.2 109.5,755.9 117.5,754.3 125.5,753.9 133.5,754.2 141.5,755.1 149.5,756.0 157.5,756.7 165.5,757.0 173.5,758.7 181.5,761.6 189.5,765.6 197.5,769.3 205.5,772.9 213.5,776.8 221.5,780.2 229.5,784.2 237.5,788.7 245.5,792.7 253.5,796.5 261.5,800.4 269.5,802.4 277.5,802.7 285.5,801.6 293.5,800.3 301.5,797.3 309.5,792.9 317.5,787.2 325.5,780.3 333.5,772.2 341.5,765.9 349.5,761.2 357.5,758.5 365.5,756.9 373.5,756.7 381.5,757.9 389.5,759.4 397.5,760.9 405.5,762.7 413.5,765.9 421.5,770.1 429.5,774.3 437.5,778.7 445.5,783.3 453.5,788.3 461.5,793.5 469.5,799.2 477.5,804.7 485.5,808.9 493.5,812.2 501.5,815.1 509.5,818.8 517.5,823.1 525.5,827.5 533.5,831.9 541.5,836.0 549.5,839.7 557.5,842.8 565.5,845.1 573.5,846.2 581.5,845.1 589.5,842.0 597.5,837.2 605.5,831.4 613.5,825.7 621.5,820.3 629.5,814.8 637.5,809.2 645.5,804.5 653.5,801.4 661.5,800.0 669.5,799.8 677.5,800.2 685.5,801.1 693.5,802.8 701.5,805.3 709.5,808.4 717.5,811.5 725.5,814.1 733.5,816.3 741.5,817.9 749.5,819.1 757.5,819.8 765.5,819.5 773.5,818.9 781.5,818.1 789.5,817.4 797.5,815.0 805.5,811.3 813.5,807.2 821.5,802.8 829.5,798.4 837.5,794.3 845.5,789.1 853.5,783.3 861.5,777.2 869.5,772.0 877.5,767.0 885.5,762.1 893.5,757.6 901.5,753.0 909.5,748.3 917.5,745.0 925.5,742.1 933.5,739.6 941.5,737.8 949.5,737.9 957.5,739.2 965.5,741.4 973.5,743.9 981.5,746.0 989.5,749.1 997.5,753.2 1005.5,757.9 1013.5,762.8 1021.5,766.7 1029.5,769.7 1037.5,771.2 1045.5,771.7 1053.5,772.1 1061.5,771.3 1069.5,769.2 1077.5,766.4 1085.5,763.1 1093.5,759.6 1101.5,756.2 1109.5,753.7 1117.5,751.4 1125.5,748.7 1133.5,746.2 1141.5,743.7 1149.5,741.3 1157.5,738.4 1165.5,735.6 1173.5,732.9 1181.5,728.6 1189.5,723.3 1197.5,717.8 1205.5,711.4 1213.5,704.5 1221.5,697.4 1229.5,691.1 1237.5,684.8 1245.5,678.6 1253.5,674.1 1261.5,671.8 1269.5,670.9 1277.5,671.5 1285.5,673.2" fill="none" stroke="#ff0000" stroke-width="2" stroke-linejoin="round"/>
</g>
<rect x="4" y="4" width="1620" height="1" fill="#000"/>
<rect x="4" y="653" width="1620" height="1" fill="#000"/>
<rect x="4" y="4" width="1" height="650" fill="#000"/>
<rect x="1623" y="4" width="1" height="650" fill="#000"/>
<rect x="4" y="655" width="1620" height="1" fill="#000"/>
<rect x="4" y="866" width="1620" height="1" fill="#000"/>
<rect x="4" y="655" width="1" height="212" fill="#000"/>
<rect x="1623" y="655" width="1" height="212" fill="#000"/>
<rect x="5" y="192" width="1618" height="3" fill="#0000cc"/>
<rect x="5" y="282" width="1618" height="3" fill="#0000cc"/>
<rect x="4" y="280" width="7" height="7" fill="#0000cc"/>
<rect x="7" y="283" width="1" height="1" fill="#fff"/>
<rect x="1617" y="280" width="7" height="7" fill="#0000cc"/>
<rect x="1620" y="283" width="1" height="1" fill="#fff"/>
<g shape-rendering="geometricPrecision"><line x1="1293.5" y1="192" x2="1334" y2="80" stroke="#ff0000" stroke-width="6" stroke-linecap="round"/>
<polygon points="1347,44 1323,73.5 1346,82" fill="#ff0000"/></g>
<polygon points="1292.5,5 1302,5 1297.25,10" fill="#778899"/>
<polygon points="8,11 15,11 11.5,15" fill="#000"/>
<text class="t" transform="translate(20,16) scale(0.94,1)" fill="#000" stroke="#000" stroke-width="0.15">XAUUSD-,H4</text>
<text class="t" transform="translate(83,16) scale(0.91,1)" fill="#000" stroke="#000" stroke-width="0.15">1958.00</text>
<text class="t" transform="translate(119,16) scale(0.91,1)" fill="#000" stroke="#000" stroke-width="0.15">1960.90</text>
<text class="t" transform="translate(155,16) scale(0.91,1)" fill="#000" stroke="#000" stroke-width="0.15">1957.00</text>
<text class="t" transform="translate(191,16) scale(0.91,1)" fill="#000" stroke="#000" stroke-width="0.15">1959.14</text>
<rect x="1624" y="23" width="2" height="1" fill="#000"/>
<text class="t" transform="translate(1629,27) scale(0.91,1)" fill="#000" stroke="#000" stroke-width="0.15">1974.60</text>
<rect x="1624" y="56" width="2" height="1" fill="#000"/>
<text class="t" transform="translate(1629,60) scale(0.91,1)" fill="#000" stroke="#000" stroke-width="0.15">1970.20</text>
<rect x="1624" y="89" width="2" height="1" fill="#000"/>
<text class="t" transform="translate(1629,93) scale(0.91,1)" fill="#000" stroke="#000" stroke-width="0.15">1965.80</text>
<rect x="1624" y="122" width="2" height="1" fill="#000"/>
<text class="t" transform="translate(1629,126) scale(0.91,1)" fill="#000" stroke="#000" stroke-width="0.15">1961.40</text>
<rect x="1624" y="155" width="2" height="1" fill="#000"/>
<text class="t" transform="translate(1629,159) scale(0.91,1)" fill="#000" stroke="#000" stroke-width="0.15">1957.00</text>
<rect x="1624" y="188" width="2" height="1" fill="#000"/>
<text class="t" transform="translate(1629,192) scale(0.91,1)" fill="#000" stroke="#000" stroke-width="0.15">1952.60</text>
<rect x="1624" y="221" width="2" height="1" fill="#000"/>
<text class="t" transform="translate(1629,225) scale(0.91,1)" fill="#000" stroke="#000" stroke-width="0.15">1948.20</text>
<rect x="1624" y="254" width="2" height="1" fill="#000"/>
<text class="t" transform="translate(1629,258) scale(0.91,1)" fill="#000" stroke="#000" stroke-width="0.15">1943.80</text>
<rect x="1624" y="287" width="2" height="1" fill="#000"/>
<text class="t" transform="translate(1629,291) scale(0.91,1)" fill="#000" stroke="#000" stroke-width="0.15">1939.40</text>
<rect x="1624" y="320" width="2" height="1" fill="#000"/>
<text class="t" transform="translate(1629,324) scale(0.91,1)" fill="#000" stroke="#000" stroke-width="0.15">1935.00</text>
<rect x="1624" y="353" width="2" height="1" fill="#000"/>
<text class="t" transform="translate(1629,357) scale(0.91,1)" fill="#000" stroke="#000" stroke-width="0.15">1930.60</text>
<rect x="1624" y="386" width="2" height="1" fill="#000"/>
<text class="t" transform="translate(1629,390) scale(0.91,1)" fill="#000" stroke="#000" stroke-width="0.15">1926.20</text>
<rect x="1624" y="419" width="2" height="1" fill="#000"/>
<text class="t" transform="translate(1629,423) scale(0.91,1)" fill="#000" stroke="#000" stroke-width="0.15">1921.90</text>
<rect x="1624" y="452" width="2" height="1" fill="#000"/>
<text class="t" transform="translate(1629,456) scale(0.91,1)" fill="#000" stroke="#000" stroke-width="0.15">1917.50</text>
<rect x="1624" y="485" width="2" height="1" fill="#000"/>
<text class="t" transform="translate(1629,489) scale(0.91,1)" fill="#000" stroke="#000" stroke-width="0.15">1913.10</text>
<rect x="1624" y="518" width="2" height="1" fill="#000"/>
<text class="t" transform="translate(1629,522) scale(0.91,1)" fill="#000" stroke="#000" stroke-width="0.15">1908.70</text>
<rect x="1624" y="551" width="2" height="1" fill="#000"/>
<text class="t" transform="translate(1629,555) scale(0.91,1)" fill="#000" stroke="#000" stroke-width="0.15">1904.30</text>
<rect x="1624" y="584" width="2" height="1" fill="#000"/>
<text class="t" transform="translate(1629,588) scale(0.91,1)" fill="#000" stroke="#000" stroke-width="0.15">1899.90</text>
<rect x="1624" y="617" width="2" height="1" fill="#000"/>
<text class="t" transform="translate(1629,621) scale(0.91,1)" fill="#000" stroke="#000" stroke-width="0.15">1895.50</text>
<rect x="1624" y="650" width="2" height="1" fill="#000"/>
<text class="t" transform="translate(1629,654) scale(0.91,1)" fill="#000" stroke="#000" stroke-width="0.15">1891.10</text>
<rect x="1625" y="134" width="41" height="11" fill="#000"/>
<text class="t" transform="translate(1629,143) scale(0.91,1)" fill="#fff" stroke="#fff" stroke-width="0">1959.14</text>
<rect x="1625" y="187" width="41" height="11" fill="#0000cc"/>
<text class="t" transform="translate(1629,196) scale(0.91,1)" fill="#fff" stroke="#fff" stroke-width="0">1952.00</text>
<rect x="1625" y="277" width="41" height="11" fill="#0000cc"/>
<text class="t" transform="translate(1629,286) scale(0.91,1)" fill="#fff" stroke="#fff" stroke-width="0">1940.00</text>
<text class="t" transform="translate(9,668) scale(0.94,1)" fill="#000" stroke="#000" stroke-width="0.15">MACD(12,26,9) 8.081 9.264</text>
<rect x="1624" y="657" width="1" height="1" fill="#000"/>
<text class="t" transform="translate(1627,666) scale(0.91,1)" fill="#000" stroke="#000" stroke-width="0.15">10.898</text>
<rect x="1624" y="765" width="1" height="1" fill="#000"/>
<rect x="1624" y="865" width="1" height="1" fill="#000"/>
<text class="t" transform="translate(1627,769) scale(0.91,1)" fill="#000" stroke="#000" stroke-width="0.15">0.00</text>
<text class="t" transform="translate(1627,863) scale(0.91,1)" fill="#000" stroke="#000" stroke-width="0.15">-10.125</text>
<rect x="5" y="867" width="1" height="3" fill="#000"/>
<text class="t" transform="translate(4,879) scale(0.91,1)" fill="#000" stroke="#000" stroke-width="0.15">8 Jun 2023</text>
<rect x="69" y="867" width="1" height="3" fill="#000"/>
<text class="t" transform="translate(68,879) scale(0.91,1)" fill="#000" stroke="#000" stroke-width="0.15">9 Jun 08:00</text>
<rect x="133" y="867" width="1" height="3" fill="#000"/>
<text class="t" transform="translate(132,879) scale(0.91,1)" fill="#000" stroke="#000" stroke-width="0.15">12 Jun 16:00</text>
<rect x="197" y="867" width="1" height="3" fill="#000"/>
<text class="t" transform="translate(196,879) scale(0.91,1)" fill="#000" stroke="#000" stroke-width="0.15">14 Jun 00:00</text>
<rect x="261" y="867" width="1" height="3" fill="#000"/>
<text class="t" transform="translate(260,879) scale(0.91,1)" fill="#000" stroke="#000" stroke-width="0.15">15 Jun 08:00</text>
<rect x="325" y="867" width="1" height="3" fill="#000"/>
<text class="t" transform="translate(324,879) scale(0.91,1)" fill="#000" stroke="#000" stroke-width="0.15">16 Jun 16:00</text>
<rect x="389" y="867" width="1" height="3" fill="#000"/>
<text class="t" transform="translate(388,879) scale(0.91,1)" fill="#000" stroke="#000" stroke-width="0.15">20 Jun 00:00</text>
<rect x="453" y="867" width="1" height="3" fill="#000"/>
<text class="t" transform="translate(452,879) scale(0.91,1)" fill="#000" stroke="#000" stroke-width="0.15">21 Jun 08:00</text>
<rect x="517" y="867" width="1" height="3" fill="#000"/>
<text class="t" transform="translate(516,879) scale(0.91,1)" fill="#000" stroke="#000" stroke-width="0.15">22 Jun 16:00</text>
<rect x="581" y="867" width="1" height="3" fill="#000"/>
<text class="t" transform="translate(580,879) scale(0.91,1)" fill="#000" stroke="#000" stroke-width="0.15">26 Jun 00:00</text>
<rect x="645" y="867" width="1" height="3" fill="#000"/>
<text class="t" transform="translate(644,879) scale(0.91,1)" fill="#000" stroke="#000" stroke-width="0.15">27 Jun 08:00</text>
<rect x="709" y="867" width="1" height="3" fill="#000"/>
<text class="t" transform="translate(708,879) scale(0.91,1)" fill="#000" stroke="#000" stroke-width="0.15">28 Jun 16:00</text>
<rect x="773" y="867" width="1" height="3" fill="#000"/>
<text class="t" transform="translate(772,879) scale(0.91,1)" fill="#000" stroke="#000" stroke-width="0.15">30 Jun 00:00</text>
<rect x="837" y="867" width="1" height="3" fill="#000"/>
<text class="t" transform="translate(836,879) scale(0.91,1)" fill="#000" stroke="#000" stroke-width="0.15">3 Jul 08:00</text>
<rect x="901" y="867" width="1" height="3" fill="#000"/>
<text class="t" transform="translate(900,879) scale(0.91,1)" fill="#000" stroke="#000" stroke-width="0.15">4 Jul 16:00</text>
<rect x="965" y="867" width="1" height="3" fill="#000"/>
<text class="t" transform="translate(964,879) scale(0.91,1)" fill="#000" stroke="#000" stroke-width="0.15">6 Jul 00:00</text>
<rect x="1029" y="867" width="1" height="3" fill="#000"/>
<text class="t" transform="translate(1028,879) scale(0.91,1)" fill="#000" stroke="#000" stroke-width="0.15">7 Jul 08:00</text>
<rect x="1093" y="867" width="1" height="3" fill="#000"/>
<text class="t" transform="translate(1092,879) scale(0.91,1)" fill="#000" stroke="#000" stroke-width="0.15">10 Jul 16:00</text>
<rect x="1157" y="867" width="1" height="3" fill="#000"/>
<text class="t" transform="translate(1156,879) scale(0.91,1)" fill="#000" stroke="#000" stroke-width="0.15">12 Jul 00:00</text>
<rect x="1221" y="867" width="1" height="3" fill="#000"/>
<text class="t" transform="translate(1220,879) scale(0.91,1)" fill="#000" stroke="#000" stroke-width="0.15">13 Jul 08:00</text>
<rect x="1285" y="867" width="1" height="3" fill="#000"/>
<text class="t" transform="translate(1284,879) scale(0.91,1)" fill="#000" stroke="#000" stroke-width="0.15">14 Jul 16:00</text>
</svg></body></html>
